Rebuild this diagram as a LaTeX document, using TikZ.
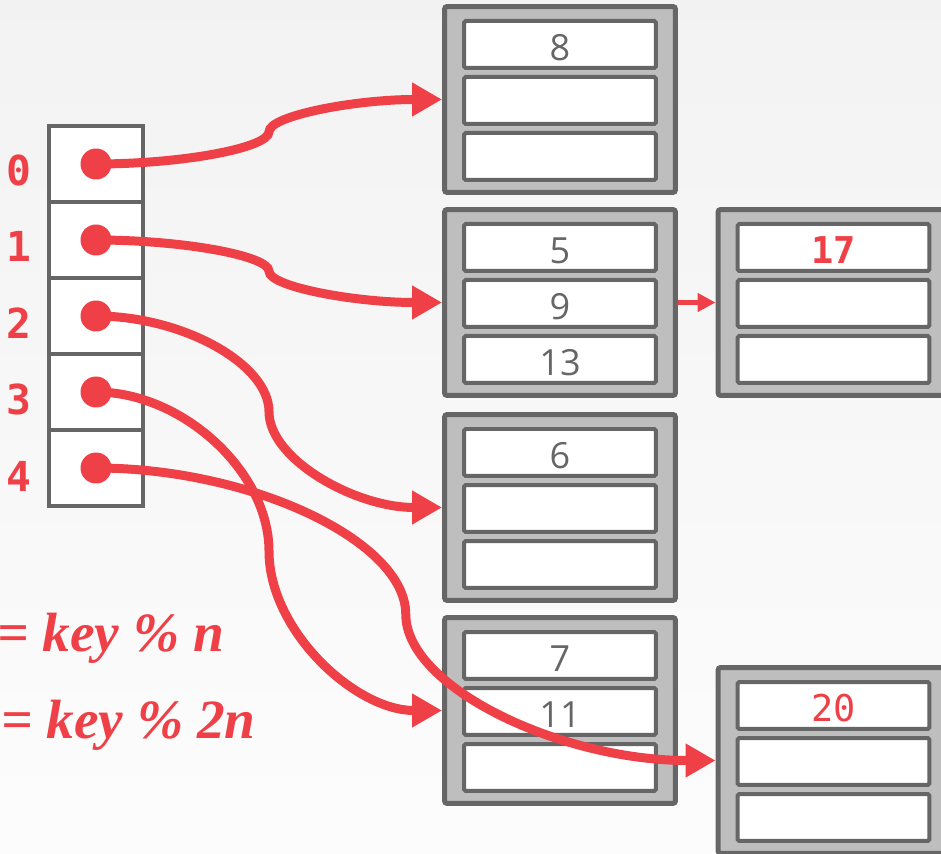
\documentclass[tikz,border=0pt]{standalone}
\usepackage{fontspec}
\usepackage{tikz}
\usetikzlibrary{arrows.meta, positioning, calc}

\definecolor{hashred}{RGB}{238,64,70}
\definecolor{framegray}{RGB}{102,102,102}
\definecolor{bucketgray}{RGB}{190,190,190}
\newfontfamily\monofont{DejaVu Sans Mono}
\newfontfamily\valfont{Open Sans}
\newfontfamily\formfont{Liberation Serif}

\tikzset{
  bucket/.style={draw=framegray, fill=bucketgray, line width=0.1cm, rounded corners=1.5pt,
    minimum width=4.62cm, minimum height=3.72cm, inner sep=0},
  slot/.style={draw=framegray, fill=white, line width=0.08cm, rounded corners=1pt,
    minimum width=3.84cm, minimum height=0.94cm, inner sep=0},
  cell/.style={draw=framegray, fill=white, line width=0.08cm,
    minimum width=1.88cm, minimum height=1.52cm, inner sep=0},
  dot/.style={circle, fill=hashred, minimum size=0.62cm, inner sep=0},
  idx/.style={text=hashred, font=\monofont\bfseries\fontsize{23.5}{27}\selectfont},
  val/.style={text=framegray, yshift=-0.06cm, font=\valfont\fontsize{20.5}{24}\selectfont},
  form/.style={text=hashred, inner sep=0, font=\formfont\bfseries\itshape\fontsize{31.5}{36}\selectfont},
  link/.style={hashred, line width=0.18cm, ->},
}

% two half curves with a vertical turn half way
\newcommand{\hashlink}[2]{%
  \draw[link] let \p1=(#1), \p2=(#2) in
    (\p1) .. controls ({(3*\x1+\x2)/4},\y1) and ({(\x1+\x2)/2},{(3*\y1+\y2)/4})
    .. ({(\x1+\x2)/2},{(\y1+\y2)/2})
    .. controls ({(\x1+\x2)/2},{(\y1+3*\y2)/4}) and ({(\x1+3*\x2)/4},\y2) .. (\p2);}

\begin{document}
\begin{tikzpicture}[x=0.02cm, y=-0.02cm, >={Triangle[length=0.6cm,width=0.64cm]}]
  \useasboundingbox (0,0) rectangle (941,854);
  \clip (0,0) rectangle (941,854);
  \shade[top color=black!5, bottom color=black!1] (0,0) rectangle (941,854);

  % hash table
  \foreach \i in {0,...,4} {
    \node[cell] (c\i) at (96,{164+76*\i}) {};
    \node[idx] (n\i) at (19,{170+76.5*\i}) {\i};
  }

  % buckets
  \node[bucket] (b8) at (560,99.5) {};
  \node[bucket] (b5) at (560,302.5) {};
  \node[bucket] (b6) at (560,507.5) {};
  \node[bucket] (b7) at (560,710.5) {};
  \node[bucket] (b17) at (833.5,302.5) {};
  \node[bucket] (b20) at (833.5,760.5) {};
  \foreach \b in {b8,b5,b6,b7,b17,b20}
    \foreach \k/\dy in {1/-55,2/1,3/57}
      \node[slot] (\b-\k) at ($(\b)+(0,\dy)$) {};

  \node[val] (v8) at (b8-1) {8};
  \node[val] (v5) at (b5-1) {5};
  \node[val] (v9) at (b5-2) {9};
  \node[val] (v13) at (b5-3) {13};
  \node[val] (v6) at (b6-1) {6};
  \node[val] (v7) at (b7-1) {7};
  \node[val] (v11) at (b7-2) {11};
  \node[idx, yshift=-0.06cm, font=\monofont\bfseries\fontsize{21}{24}\selectfont] (v17) at (b17-1) {17};
  \node[idx, yshift=-0.06cm, font=\monofont\fontsize{21}{24}\selectfont] (v20) at (b20-1) {20};

  \node[form, anchor=base west] (f1) at (-3,652) {= key \% n};
  \node[form, anchor=base west] (f2) at (1,739) {= key \% 2n};

  % pointers
  \foreach \i in {0,...,4}
    \node[dot] (d\i) at (c\i) {};
  \hashlink{d0.center}{b8.west}
  \hashlink{d1.center}{b5.west}
  \hashlink{d2.center}{b6.west}
  \hashlink{d3.center}{b7.west}
  \hashlink{d4.center}{b20.west}
  \draw[link, line width=0.1cm, -{Triangle[length=0.36cm,width=0.36cm]}] (b5.east) -- (b17.west);
\end{tikzpicture}
\end{document}
